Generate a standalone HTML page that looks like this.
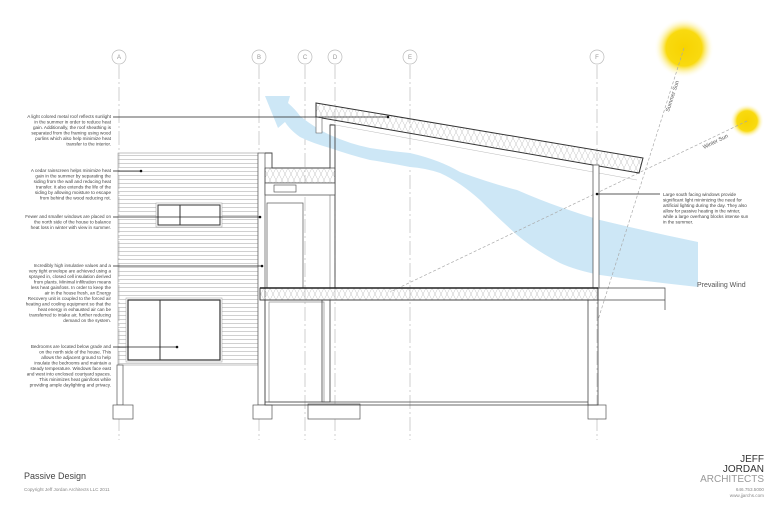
<!DOCTYPE html>
<html><head><meta charset="utf-8"><style>
html,body{margin:0;padding:0;background:#fff;}
svg{display:block;font-family:"Liberation Sans",sans-serif;}
.t{font-size:4.6px;fill:#444;text-anchor:end;}
</style></head><body>
<svg width="780" height="507" viewBox="0 0 780 507" xmlns="http://www.w3.org/2000/svg">
<defs>
<radialGradient id="sun"><stop offset="0" stop-color="#f7d300"/><stop offset="0.6" stop-color="#f9da10"/><stop offset="1" stop-color="#fff" stop-opacity="0"/></radialGradient>
<pattern id="ins" width="6" height="12" patternUnits="userSpaceOnUse"><path d="M0 0L3 6L0 12M6 0L3 6L6 12" stroke="#c4c4c4" stroke-width="0.5" fill="none"/></pattern>
<pattern id="sid" width="10" height="4" patternUnits="userSpaceOnUse"><line x1="0" y1="3.5" x2="10" y2="3.5" stroke="#b0b0b0" stroke-width="0.6"/></pattern>
</defs>
<rect width="780" height="507" fill="#fff"/>
<circle cx="684" cy="48" r="30" fill="url(#sun)"/>
<circle cx="747" cy="121" r="17" fill="url(#sun)"/>
<g stroke="#bbb" stroke-width="0.7" fill="none">
<circle cx="119" cy="57" r="7"/><circle cx="259" cy="57" r="7"/><circle cx="305" cy="57" r="7"/><circle cx="335" cy="57" r="7"/><circle cx="410" cy="57" r="7"/><circle cx="597" cy="57" r="7"/>
<g stroke-dasharray="14,3,2,3">
<line x1="119" y1="65" x2="119" y2="440"/><line x1="259" y1="65" x2="259" y2="440"/><line x1="305" y1="65" x2="305" y2="440"/><line x1="335" y1="65" x2="335" y2="440"/><line x1="410" y1="65" x2="410" y2="440"/><line x1="597" y1="65" x2="597" y2="440"/>
</g></g>
<g font-size="6" fill="#999" text-anchor="middle">
<text x="119" y="59">A</text><text x="259" y="59">B</text><text x="305" y="59">C</text><text x="335" y="59">D</text><text x="410" y="59">E</text><text x="597" y="59">F</text></g>
<!-- wind -->
<path d="M265 96 L290 96 L288 103 Q296 110 300 116 Q315 128 330 135 Q350 144 370 148 Q390 151 410 153 Q440 160 460 172 Q490 183 517 190 Q540 200 560 207 Q580 214 600 220 Q650 232 698 242 L698 287 Q650 282 600 275 Q575 270 560 263 Q535 250 517 235 Q495 215 480 200 Q460 182 440 173 Q425 168 410 167 Q390 163 370 160 Q350 155 330 148 Q312 143 300 137 Q290 130 285 122 L278 128 Z" fill="#cde7f6"/>
<g stroke="#aaa" stroke-width="0.7" stroke-dasharray="3,2" fill="none">
<line x1="684" y1="48" x2="598" y2="320"/><line x1="747" y1="121" x2="390" y2="292"/></g>
<text x="0" y="0" font-size="5.5" fill="#555" transform="translate(669,112) rotate(-72)">Summer Sun</text>
<text x="0" y="0" font-size="5.5" fill="#555" transform="translate(704,149) rotate(-26)">Winter Sun</text>
<!-- roof -->
<path d="M316 103 L643 158 L639 173 L316 117 Z" fill="url(#ins)" stroke="#333" stroke-width="1"/>
<path d="M316 117 L322 118 L322 133 L316 133 Z" fill="#fff" stroke="#555" stroke-width="0.6"/>
<line x1="330" y1="124" x2="637" y2="180" stroke="#bbb" stroke-width="0.5"/>
<!-- siding block -->
<rect x="118" y="153" width="140" height="212" fill="url(#sid)" stroke="#999" stroke-width="0.6"/>
<rect x="156" y="203" width="66" height="24" fill="#fff" stroke="#999" stroke-width="0.5"/>
<rect x="158" y="205" width="62" height="20" fill="#fff" stroke="#333" stroke-width="1"/>
<line x1="180" y1="205" x2="180" y2="225" stroke="#333"/>
<rect x="126" y="298" width="96" height="64" fill="#fff" stroke="#999" stroke-width="0.5"/>
<rect x="128" y="300" width="92" height="60" fill="#fff" stroke="#333" stroke-width="1.2"/>
<line x1="160" y1="300" x2="160" y2="360" stroke="#333"/>
<g stroke="#555" stroke-width="0.7" fill="#fff">
<rect x="117" y="365" width="6" height="40"/><rect x="113" y="405" width="20" height="14"/>
<rect x="258" y="153" width="7" height="252"/><rect x="253" y="405" width="19" height="14"/>
<rect x="588" y="405" width="18" height="14"/><rect x="308" y="404" width="52" height="15"/>
</g>
<path d="M265 153 L272 153 L272 168 L330 168 L330 125 L335 125 L335 288" fill="none" stroke="#444" stroke-width="0.9"/>
<rect x="265" y="168" width="70" height="15" fill="url(#ins)" stroke="#444" stroke-width="0.7"/>
<rect x="265" y="183" width="70" height="12" fill="#fff" stroke="#444" stroke-width="0.7"/>
<rect x="274" y="185" width="22" height="7" fill="none" stroke="#444" stroke-width="0.6"/>
<rect x="267" y="203" width="36" height="85" fill="none" stroke="#555" stroke-width="0.7"/>
<line x1="330" y1="195" x2="330" y2="288" stroke="#777" stroke-width="0.6"/>
<rect x="593" y="165" width="6" height="123" fill="#fff" stroke="#444" stroke-width="0.7"/>
<rect x="260" y="288" width="338" height="12" fill="url(#ins)" stroke="#333" stroke-width="0.9"/>
<line x1="260" y1="288" x2="598" y2="288" stroke="#222" stroke-width="1.4"/>
<path d="M598 288 L665 288 L665 300 L598 300 M605 300 L665 300 M665 292 L665 310" fill="none" stroke="#444" stroke-width="0.7"/>
<g fill="none" stroke="#444" stroke-width="0.8">
<rect x="265" y="300" width="333" height="105"/>
<rect x="269" y="302" width="55" height="100" stroke="#999"/>
<rect x="322" y="300" width="8" height="102"/>
<line x1="588" y1="300" x2="588" y2="405"/>
<line x1="265" y1="402" x2="588" y2="402"/>
</g>
<g stroke="#222" stroke-width="0.8">
<line x1="113" y1="117" x2="388" y2="117"/><line x1="113" y1="171" x2="141" y2="171"/>
<line x1="113" y1="217" x2="260" y2="217"/><line x1="113" y1="266" x2="262" y2="266"/>
<line x1="113" y1="347" x2="177" y2="347"/><line x1="597" y1="194" x2="660" y2="194"/></g>
<g fill="#111"><circle cx="388" cy="117" r="1.3"/><circle cx="141" cy="171" r="1.3"/><circle cx="260" cy="217" r="1.3"/><circle cx="262" cy="266" r="1.3"/><circle cx="177" cy="347" r="1.3"/><circle cx="597" cy="194" r="1.3"/></g>
<text class="t"><tspan x="111" y="118">A light colored metal roof reflects sunlight</tspan><tspan x="111" y="123.5">in the summer in order to reduce heat</tspan><tspan x="111" y="129">gain.  Additionally, the roof sheathing is</tspan><tspan x="111" y="134.5">separated from the framing using wood</tspan><tspan x="111" y="140">purlins which also help minimize heat</tspan><tspan x="111" y="145.5">transfer to the interior.</tspan></text>
<text class="t"><tspan x="111" y="172">A cedar rainscreen helps minimize heat</tspan><tspan x="111" y="177.5">gain in the summer by separating the</tspan><tspan x="111" y="183">siding from the wall and reducing heat</tspan><tspan x="111" y="188.5">transfer.  It also extends the life of the</tspan><tspan x="111" y="194">siding by allowing moisture to escape</tspan><tspan x="111" y="199.5">from behind the wood reducing rot.</tspan></text>
<text class="t"><tspan x="111" y="218">Fewer and smaller windows are placed on</tspan><tspan x="111" y="223.5">the north side of the house to balance</tspan><tspan x="111" y="229">heat loss in winter with view in summer.</tspan></text>
<text class="t"><tspan x="111" y="267">Incredibly high insulative values and a</tspan><tspan x="111" y="272.5">very tight envelope are achieved using a</tspan><tspan x="111" y="278">sprayed in, closed cell insulation derived</tspan><tspan x="111" y="283.5">from plants.  Minimal infiltration means</tspan><tspan x="111" y="289">less heat gain/loss.  In order to keep the</tspan><tspan x="111" y="294.5">air in the house fresh, an Energy</tspan><tspan x="111" y="300">Recovery unit is coupled to the forced air</tspan><tspan x="111" y="305.5">heating and cooling equipment so that the</tspan><tspan x="111" y="311">heat energy in exhausted air can be</tspan><tspan x="111" y="316.5">transferred to intake air, further reducing</tspan><tspan x="111" y="322">demand on the system.</tspan></text>
<text class="t"><tspan x="111" y="348">Bedrooms are located below grade and</tspan><tspan x="111" y="353.5">on the north side of the house.  This</tspan><tspan x="111" y="359">allows the adjacent ground to help</tspan><tspan x="111" y="364.5">insulate the bedrooms and maintain a</tspan><tspan x="111" y="370">steady temperature.  Windows face east</tspan><tspan x="111" y="375.5">and west into enclosed courtyard spaces.</tspan><tspan x="111" y="381">This minimizes heat gain/loss while</tspan><tspan x="111" y="386.5">providing ample daylighting and privacy.</tspan></text>
<text class="t" style="text-anchor:start"><tspan x="663" y="196">Large south facing windows provide</tspan><tspan x="663" y="201.5">significant light minimizing the need for</tspan><tspan x="663" y="207">artificial lighting during the day.  They also</tspan><tspan x="663" y="212.5">allow for passive heating in the winter,</tspan><tspan x="663" y="218">while a large overhang blocks intense sun</tspan><tspan x="663" y="223.5">in the summer.</tspan></text>
<text x="697" y="287" font-size="7" fill="#555">Prevailing Wind</text>
<text x="24" y="479" font-size="9" fill="#444">Passive Design</text>
<text x="24" y="491" font-size="4.6" fill="#888">Copyright Jeff Jordan Architects LLC 2011</text>
<g text-anchor="end" font-size="10"><text x="764" y="462" fill="#333">JEFF</text><text x="764" y="472" fill="#333">JORDAN</text><text x="764" y="482" fill="#999">ARCHITECTS</text></g>
<g text-anchor="end" font-size="4.6" fill="#888"><text x="764" y="491">646.753.5000</text><text x="764" y="497">www.jjarchs.com</text></g>
</svg>
</body></html>
